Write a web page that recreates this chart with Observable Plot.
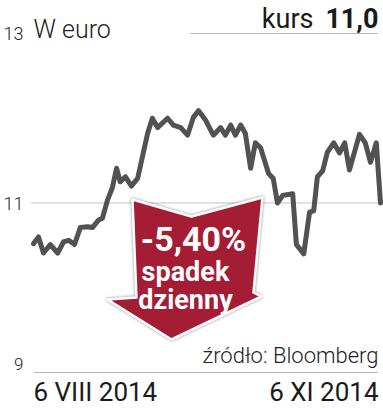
<!DOCTYPE html>
<html>
<head>
<meta charset="utf-8">
<script src="https://cdn.jsdelivr.net/npm/d3@7"></script>
<script src="https://cdn.jsdelivr.net/npm/@observablehq/plot@0.6"></script>
<style>
  html, body { margin: 0; padding: 0; background: #fff; }
  #chart svg { display: block; }
</style>
</head>
<body>
<div id="chart"></div>
<script>
// Trading-session index (0 = 6 VIII 2014, 66 = 6 XI 2014) and closing price in euro
const sessions = [0, 0.95, 1.9, 3.2, 4.6, 5.7, 6.7, 7.8, 8.9, 10.3, 11.2, 12.4, 13.1, 14.1, 15.0, 15.8,
  16.5, 17.5, 18.6, 19.8, 20.7, 21.7, 22.6, 23.6, 25.5, 26.6, 28.0, 29.3, 30.4, 31.4, 32.7, 34.2,
  35.6, 36.5, 37.5, 38.4, 39.4, 40.3, 41.3, 42.2, 43.2, 44.7, 45.6, 46.4, 47.4, 49.3, 50.0, 51.4,
  52.5, 53.3, 54.0, 55.0, 55.9, 57.1, 58.2, 59.2, 60.1, 62.0, 63.1, 64.1, 65.2, 66.0];
const prices = [10.52, 10.60, 10.41, 10.51, 10.41, 10.54, 10.56, 10.51, 10.71, 10.72, 10.71, 10.80, 10.82, 11.04, 11.18, 11.41,
  11.25, 11.31, 11.20, 11.29, 11.54, 11.82, 12.00, 11.89, 12.00, 11.92, 11.89, 11.80, 12.01, 12.09, 11.98, 11.80,
  11.89, 11.80, 11.92, 11.80, 11.92, 11.82, 11.41, 11.71, 11.65, 11.35, 11.29, 11.00, 11.09, 11.11, 10.51, 10.40,
  10.89, 10.91, 11.31, 11.38, 11.60, 11.71, 11.59, 11.71, 11.39, 11.81, 11.71, 11.48, 11.71, 11.00];

const yTicks = [9, 11, 13];
const dateLabels = ["6 VIII 2014", "6 XI 2014"];
const unitLabel = "W euro";
const priceLabel = "kurs";
const priceValue = "11,0";
const sourceLabel = "źródło: Bloomberg";
const changeLabels = ["-5,40%", "spadek", "dzienny"];
const arrowAt = {session: 29, price: 11};

const data = sessions.map((s, i) => ({session: s, price: prices[i]}));

const font = "Roboto, 'Liberation Sans', sans-serif";
const chart = Plot.plot({
  width: 383,
  height: 408,
  marginLeft: 33,
  marginRight: 3,
  marginTop: 33,
  marginBottom: 36,
  x: {domain: [0, 66], axis: null},
  y: {domain: [9, 13], axis: null},
  style: {fontFamily: font, background: "#fff", overflow: "visible"},
  marks: [
    Plot.ruleY([yTicks[0]], {stroke: "#b8b8b8", strokeWidth: 1.2, insetLeft: 1, insetRight: 2}),
    Plot.ruleY([yTicks[1]], {stroke: "#c4c4c4", strokeWidth: 1.2, insetLeft: -2, insetRight: -3}),
    Plot.ruleY([yTicks[2]], {stroke: "#b8b8b8", strokeWidth: 1.2, insetLeft: 157, insetRight: 2}),
    Plot.line(data, {x: "session", y: "price", stroke: "#525252", strokeWidth: 5, strokeLinejoin: "round", strokeLinecap: "round"}),
    Plot.text(yTicks.slice(1), {y: d => d, text: d => String(d), frameAnchor: "left", textAnchor: "end", dx: -10, dy: 1, fontSize: 18, fontWeight: 300, fill: "#222"}),
    Plot.text(yTicks.slice(0, 1), {y: d => d, text: d => String(d), frameAnchor: "left", textAnchor: "end", dx: -10, dy: -8, fontSize: 17, fontWeight: 300, fill: "#222"}),
    Plot.text([unitLabel], {frameAnchor: "top-left", textAnchor: "start", lineAnchor: "bottom", dy: 4, fontSize: 25, fontWeight: 300, fill: "#222"}),
    Plot.text([priceLabel], {frameAnchor: "top-right", textAnchor: "end", lineAnchor: "bottom", dx: -67, dy: -6, fontSize: 27, fontWeight: 400, fill: "#1a1a1a"}),
    Plot.text([priceValue], {frameAnchor: "top-right", textAnchor: "end", lineAnchor: "bottom", dx: -2, dy: -6, fontSize: 27, fontWeight: 700, fill: "#1a1a1a"}),
    Plot.text([sourceLabel], {frameAnchor: "bottom-right", textAnchor: "end", lineAnchor: "bottom", dx: -2, dy: -10, fontSize: 22, fontWeight: 300, fill: "#222"}),
    Plot.text([dateLabels[0]], {frameAnchor: "bottom-left", textAnchor: "start", lineAnchor: "bottom", dx: 0, dy: 28, fontSize: 26, fontWeight: 400, fill: "#1a1a1a"}),
    Plot.text([dateLabels[1]], {frameAnchor: "bottom-right", textAnchor: "end", lineAnchor: "bottom", dx: -2, dy: 28, fontSize: 26, fontWeight: 400, fill: "#1a1a1a"})
  ]
});
document.getElementById("chart").append(chart);

// Annotation arrow, anchored on the chart's own scales
const ax = chart.scale("x").apply(arrowAt.session);
const ay = chart.scale("y").apply(arrowAt.price);
const shape = [[-53, -3], [6, 14], [77, -5], [68, 90], [76, 94], [-14, 137], [-78, 97], [-49, 95]];
const g = d3.select(chart).append("g").attr("transform", `translate(${ax},${ay})`);
g.append("path")
  .attr("d", "M" + shape.map(p => p.join(",")).join("L") + "Z")
  .attr("fill", "#a51d34")
  .attr("stroke", "#fff")
  .attr("stroke-width", 2.5)
  .attr("stroke-linejoin", "round")
  .style("filter", "drop-shadow(0px 0px 1.5px rgba(0,0,0,0.45))");
const textPos = [[8, 48, 34], [0, 78, 27], [0, 106, 27]];
changeLabels.forEach((t, i) => {
  g.append("text")
    .attr("x", textPos[i][0])
    .attr("y", textPos[i][1])
    .attr("text-anchor", "middle")
    .attr("font-family", font)
    .attr("font-weight", 700)
    .attr("font-size", textPos[i][2])
    .attr("fill", "#fff")
    .text(t);
});
</script>
</body>
</html>
